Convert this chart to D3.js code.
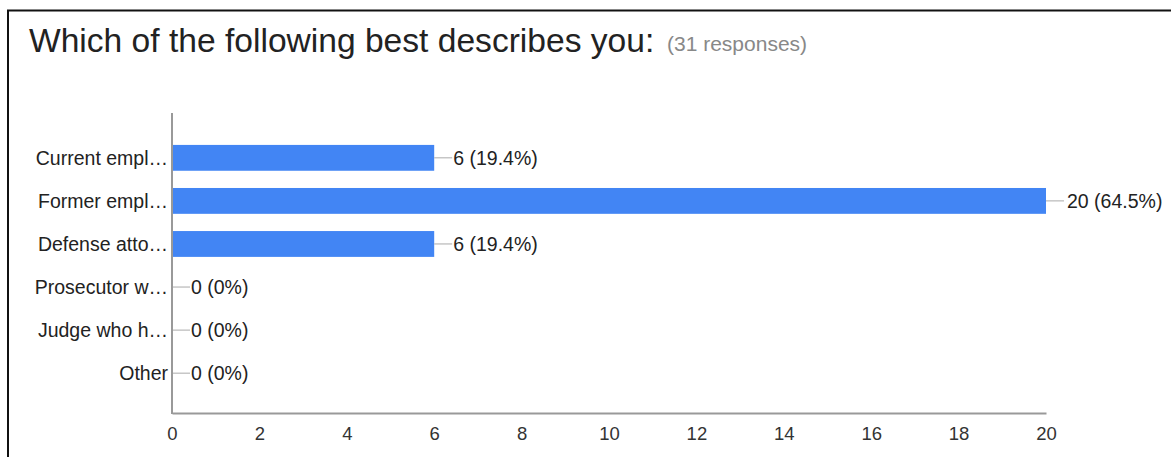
<!DOCTYPE html>
<meta charset='utf-8'>
<head>
    <title>Which of the following best describes you</title>
    <script src='https://cdn.jsdelivr.net/npm/d3@7/dist/d3.min.js'></script>
</head>

<style>
    body { margin: 0; background: white; }
    text { font-family: Arial, 'Liberation Sans', sans-serif; }
    .bar { fill: #4285f4; }
    .axis path, .axis line { stroke: #999; }
    .lead { stroke: #aaa; stroke-width: 1px; }
</style>

<svg></svg>

<script>
    var vWidth = 1171;
    var vHeight = 457;

    var categories = ['Current empl…', 'Former empl…', 'Defense atto…', 'Prosecutor w…', 'Judge who h…', 'Other'];
    var counts = [6, 20, 6, 0, 0, 0];
    var labels = ['6 (19.4%)', '20 (64.5%)', '6 (19.4%)', '0 (0%)', '0 (0%)', '0 (0%)'];
    var xTicks = [0, 2, 4, 6, 8, 10, 12, 14, 16, 18, 20];

    var svg = d3.select('svg').attr('width', vWidth).attr('height', vHeight);

    // frame: only top and left edges show in the crop
    svg.append('path')
        .attr('d', 'M8,457V10.5H1171')
        .attr('fill', 'none')
        .attr('stroke', '#111')
        .attr('stroke-width', 2);

    svg.append('text')
        .attr('x', 29).attr('y', 52)
        .attr('font-size', 33.6).attr('fill', '#222')
        .text('Which of the following best describes you:');
    svg.append('text')
        .attr('x', 667).attr('y', 51)
        .attr('font-size', 21).attr('fill', '#888')
        .text('(31 responses)');

    var x = d3.scaleLinear().domain([0, 20]).range([172, 1046]);
    var y = d3.scaleBand().domain(categories).range([132, 399])
        .paddingInner(0.4).paddingOuter(0.3);

    var data = categories.map(function(c, i) { return {cat: c, n: counts[i], lab: labels[i]}; });

    // bars
    svg.selectAll('.bar').data(data).enter().append('rect')
        .attr('class', 'bar')
        .attr('x', x(0))
        .attr('y', function(d) { return y(d.cat); })
        .attr('width', function(d) { return x(d.n) - x(0); })
        .attr('height', y.bandwidth());

    // leader lines + value labels
    svg.selectAll('.lead').data(data).enter().append('line')
        .attr('class', 'lead')
        .attr('x1', function(d) { return x(d.n); })
        .attr('x2', function(d) { return x(d.n) + 18; })
        .attr('y1', function(d) { return y(d.cat) + y.bandwidth() / 2; })
        .attr('y2', function(d) { return y(d.cat) + y.bandwidth() / 2; });

    svg.selectAll('.val').data(data).enter().append('text')
        .attr('class', 'val')
        .attr('x', function(d) { return x(d.n) + (d.n === 20 ? 21 : 19); })
        .attr('y', function(d) { return y(d.cat) + y.bandwidth() / 2; })
        .attr('dy', '0.35em')
        .attr('font-size', 19.5).attr('fill', '#222')
        .text(function(d) { return d.lab; });

    // category labels
    svg.selectAll('.cat').data(data).enter().append('text')
        .attr('class', 'cat')
        .attr('x', 168)
        .attr('y', function(d) { return y(d.cat) + y.bandwidth() / 2; })
        .attr('dy', '0.35em')
        .attr('text-anchor', 'end')
        .attr('font-size', 19.5).attr('fill', '#222')
        .text(function(d) { return d.cat; });

    // axes
    var gx = svg.append('g').attr('class', 'axis')
        .attr('transform', 'translate(0,413)')
        .call(d3.axisBottom(x).tickValues(xTicks).tickSize(0).tickPadding(14));
    gx.select('.domain').attr('stroke', '#aaa').attr('stroke-width', 2);
    gx.selectAll('text').attr('font-size', 18.5).attr('fill', '#333')
        .attr('font-family', 'Arial, Liberation Sans, sans-serif');

    svg.append('line')
        .attr('x1', x(0)).attr('x2', x(0))
        .attr('y1', 113).attr('y2', 414)
        .attr('stroke', '#999').attr('stroke-width', 2);
</script>
